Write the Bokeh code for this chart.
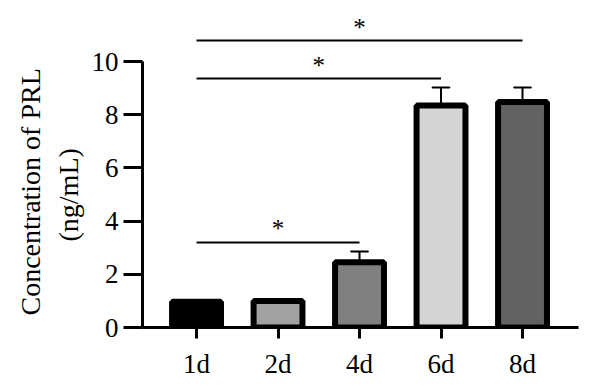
from bokeh.plotting import figure
from bokeh.models import Range1d, FixedTicker, ColumnDataSource, Title
from bokeh.core.properties import value
from bokeh.embed import file_html
from bokeh.resources import INLINE

# ---- data ----
categories = ["1d", "2d", "4d", "6d", "8d"]
means = [0.97, 1.0, 2.45, 8.35, 8.48]
errors = [0.04, 0.05, 0.41, 0.67, 0.54]
fill_colors = ["#000000", "#a1a1a1", "#808080", "#d4d4d4", "#626262"]
sig_pairs = [("1d", "4d"), ("1d", "6d"), ("1d", "8d")]
sig_levels = [3.2, 9.36, 10.79]
sig_marks = ["*", "*", "*"]
y_ticks = [0, 2, 4, 6, 8, 10]
y_label_lines = ["Concentration of PRL", "(ng/mL)"]

FONT = "Liberation Serif"

xs = [i + 1 for i in range(len(categories))]
pos = {c: x for c, x in zip(categories, xs)}

p = figure(width=600, height=391, output_backend="svg", toolbar_location=None,
           x_range=Range1d(0.337, 5.687), y_range=Range1d(0, 11.73),
           min_border_left=142, min_border_right=22, min_border_top=15,
           min_border_bottom=64)
p.outline_line_color = None
p.xgrid.visible = False
p.ygrid.visible = False
p.background_fill_color = "white"
p.border_fill_color = "white"

# error bars (upper only)
err_src = ColumnDataSource(dict(x=xs, y0=means, y1=[m + e for m, e in zip(means, errors)]))
p.segment(x0="x", y0="y0", x1="x", y1="y1", source=err_src, line_color="black", line_width=2)
p.rect(x="x", y="y1", width=0.21, height=0.0001, source=err_src,
       line_color="black", line_width=2, fill_color=None)

# bars
bar_src = ColumnDataSource(dict(x=xs, top=means, color=fill_colors))
p.vbar(x="x", top="top", bottom=0, width=0.6, source=bar_src,
       fill_color="color", line_color="black", line_width=6)

# significance brackets
sx0 = [pos[a] for a, b in sig_pairs]
sx1 = [pos[b] for a, b in sig_pairs]
p.segment(x0=sx0, y0=sig_levels, x1=sx1, y1=sig_levels, line_color="black", line_width=2)
p.text(x=[(a + b) / 2 for a, b in zip(sx0, sx1)], y=sig_levels, text=sig_marks,
       text_font=value(FONT), text_font_size="25px", text_align="center",
       text_baseline="bottom", text_color="black")

# axes styling
p.xaxis.ticker = FixedTicker(ticks=xs)
p.xaxis.major_label_overrides = {x: c for x, c in zip(xs, categories)}
p.yaxis.ticker = FixedTicker(ticks=y_ticks)
p.yaxis.bounds = (0, 10)

for ax in (p.xaxis[0], p.yaxis[0]):
    ax.axis_line_width = 3
    ax.axis_line_color = "black"
    ax.major_tick_line_width = 3
    ax.major_tick_line_color = "black"
    ax.major_tick_in = 0
    ax.minor_tick_line_color = None
    ax.major_label_text_font = FONT
    ax.major_label_text_font_size = "27px"
    ax.major_label_text_color = "black"

p.yaxis.major_tick_out = 19
p.yaxis.major_label_standoff = 5
p.xaxis.major_tick_out = 11
p.xaxis.major_label_standoff = 10

# y-axis title: two rotated lines (inner line added first)
for txt, so, off in zip(reversed(y_label_lines), [10, 0], [86, 12]):
    p.add_layout(Title(text=txt, align="left", offset=off, standoff=so,
                       text_font=FONT, text_font_size="28px",
                       text_font_style="normal", text_color="black"), "left")

open("out.html", "w").write(file_html(p, INLINE))
